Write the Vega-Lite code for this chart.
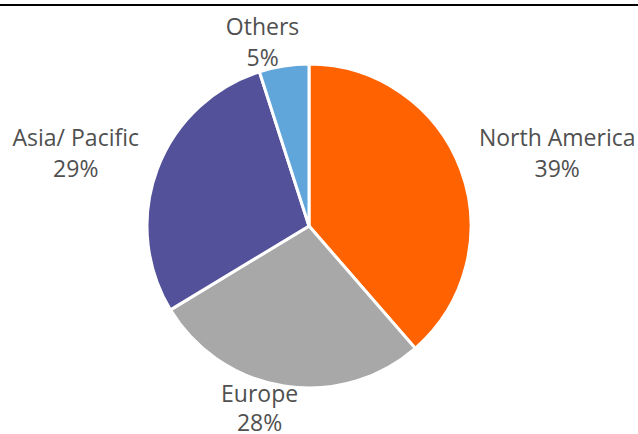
{
  "$schema": "https://vega.github.io/schema/vega-lite/v6.json",
  "width": 618,
  "height": 416,
  "autosize": {"type": "none"},
  "padding": {"left": 0, "right": 20, "top": 18, "bottom": 0},
  "background": "white",
  "config": {"view": {"stroke": null}},
  "data": {
    "values": [
      {"region": "North America", "share": 39, "rank": 1},
      {"region": "Europe", "share": 28, "rank": 2},
      {"region": "Asia/ Pacific", "share": 29, "rank": 3},
      {"region": "Others", "share": 5, "rank": 4}
    ]
  },
  "transform": [
    {"calculate": "[datum.region, datum.share + '%']", "as": "label"}
  ],
  "layer": [
    {
      "mark": {"type": "rule", "color": "#000000", "strokeWidth": 1.3},
      "encoding": {
        "x": {"value": 0},
        "x2": {"value": 638},
        "y": {"value": -13},
        "y2": {"value": -13}
      }
    },
    {
      "mark": {"type": "arc", "outerRadius": 162, "stroke": "white", "strokeWidth": 3},
      "encoding": {
        "theta": {"field": "share", "type": "quantitative", "stack": true},
        "order": {"field": "rank", "type": "quantitative"},
        "color": {
          "field": "region",
          "type": "nominal",
          "scale": {
            "domain": ["North America", "Europe", "Asia/ Pacific", "Others"],
            "range": ["#FF6200", "#A8A8A8", "#525199", "#60A6DA"]
          },
          "legend": null
        }
      }
    },
    {
      "mark": {"type": "text", "radius": 265, "dy": 6, "font": "Open Sans", "fontSize": 23, "lineHeight": 31, "color": "#505050", "align": "center", "baseline": "middle"},
      "encoding": {
        "theta": {"field": "share", "type": "quantitative", "stack": true},
        "order": {"field": "rank", "type": "quantitative"},
        "text": {"condition": {"test": "datum.region === 'North America'", "field": "label"}, "value": ""}
      }
    },
    {
      "mark": {"type": "text", "radius": 190, "dx": -20, "dy": -19, "font": "Open Sans", "fontSize": 23, "lineHeight": 29, "color": "#505050", "align": "center", "baseline": "middle"},
      "encoding": {
        "theta": {"field": "share", "type": "quantitative", "stack": true},
        "order": {"field": "rank", "type": "quantitative"},
        "text": {"condition": {"test": "datum.region === 'Europe'", "field": "label"}, "value": ""}
      }
    },
    {
      "mark": {"type": "text", "radius": 249, "dy": 0, "font": "Open Sans", "fontSize": 23, "lineHeight": 31, "color": "#505050", "align": "center", "baseline": "middle"},
      "encoding": {
        "theta": {"field": "share", "type": "quantitative", "stack": true},
        "order": {"field": "rank", "type": "quantitative"},
        "text": {"condition": {"test": "datum.region === 'Asia/ Pacific'", "field": "label"}, "value": ""}
      }
    },
    {
      "mark": {"type": "text", "radius": 190, "dx": -17, "dy": -10, "font": "Open Sans", "fontSize": 23, "lineHeight": 31, "color": "#505050", "align": "center", "baseline": "middle"},
      "encoding": {
        "theta": {"field": "share", "type": "quantitative", "stack": true},
        "order": {"field": "rank", "type": "quantitative"},
        "text": {"condition": {"test": "datum.region === 'Others'", "field": "label"}, "value": ""}
      }
    }
  ]
}
